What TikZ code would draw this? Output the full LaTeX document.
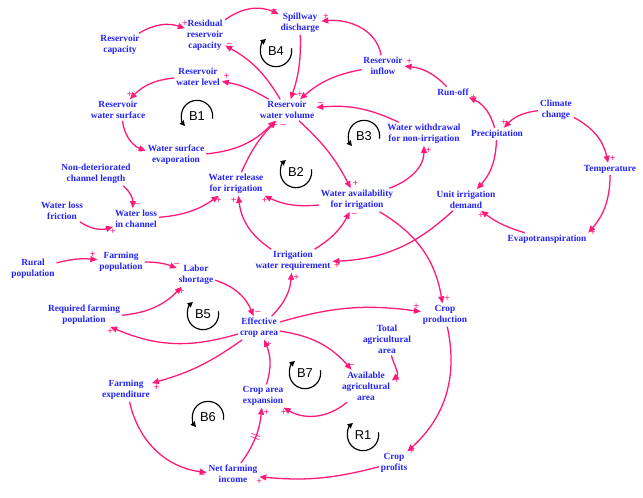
\documentclass[tikz,border=0pt]{standalone}
\usepackage{fontspec}
\setmainfont{Liberation Serif}
\newfontfamily\loopfont{Liberation Sans}
\usetikzlibrary{arrows.meta}
\definecolor{varblue}{RGB}{35,35,250}
\definecolor{linkpink}{RGB}{255,25,120}

\begin{document}
\begin{tikzpicture}[
    x=0.03cm, y=-0.03cm,
    var/.style={text=varblue, font=\bfseries\fontsize{8}{9.4}\selectfont, align=center, inner sep=1.5pt},
    link/.style={draw=linkpink, line width=1.1pt, -{Triangle[length=6pt,width=5pt]}},
    sgn/.style={text=linkpink, font=\bfseries\fontsize{8.5}{8.5}\selectfont, inner sep=1pt},
    loopname/.style={font=\loopfont\fontsize{11}{11}\selectfont},
    looparc/.style={draw=black, line width=1pt, -{Triangle[length=4.5pt,width=4.5pt]}}
]
\useasboundingbox (0,0) rectangle (643,497);

% Reservoir
\node[var] (rcap)    at (120,45)  {Reservoir\\capacity};
\node[var] (resid)   at (205,35)  {Residual\\reservoir\\capacity};
\node[var] (spill)   at (300,23)  {Spillway\\discharge};
\node[var] (inflow)  at (383,66)  {Reservoir\\inflow};
\node[var] (level)   at (198,77)  {Reservoir\\water level};
\node[var] (surf)    at (118,110) {Reservoir\\water surface};
\node[var] (vol)     at (287,110) {Reservoir\\water volume};
\node[var] (evap)    at (176,155) {Water surface\\evaporation};
\node[var] (withdr)  at (424,134) {Water withdrawal\\for non-irrigation};

% Climate
\node[var] (runoff)  at (453,92)  {Run-off};
\node[var] (climate) at (556,110) {Climate\\change};
\node[var] (precip)  at (497,134) {Precipitation};
\node[var] (temp)    at (610,169) {Temperature};
\node[var] (evapo)   at (547,239) {Evapotranspiration};
\node[var] (unit)    at (466,200) {Unit irrigation\\demand};

% Irrigation
\node[var] (avail)   at (357,200) {Water availability\\for irrigation};
\node[var] (irr)     at (293,261) {Irrigation\\water requirement};
\node[var] (chan)    at (96,174)  {Non-deteriorated\\channel length};
\node[var] (fric)    at (62,211)  {Water loss\\friction};
\node[var] (loss)    at (136,219) {Water loss\\in channel};
\node[var] (release) at (236,184) {Water release\\for irrigation};

% Farming
\node[var] (rural)   at (33,269)  {Rural\\population};
\node[var] (farmpop) at (121,262) {Farming\\population};
\node[var] (labor)   at (196,275) {Labor\\shortage};
\node[var] (reqpop)  at (84,315)  {Required farming\\population};
\node[var] (crop)    at (259,328) {Effective\\crop area};
\node[var] (prod)    at (445,315) {Crop\\production};
\node[var] (total)   at (387,339) {Total\\agricultural\\area};
\node[var] (agri)    at (366,386) {Available\\agricultural\\area};
\node[var] (expend)  at (126,390) {Farming\\expenditure};
\node[var] (expan)   at (263,396) {Crop area\\expansion};
\node[var] (income)  at (233,474) {Net farming\\income};
\node[var] (profit)  at (394,463) {Crop\\profits};

% Loop names
\node[loopname] (b4) at (276,51)  {B4};
\node[loopname] (b1) at (197,116) {B1};
\node[loopname] (b3) at (364,136) {B3};
\node[loopname] (b2) at (296,172) {B2};
\node[loopname] (b5) at (203,314) {B5};
\node[loopname] (b7) at (305,373) {B7};
\node[loopname] (b6) at (208,417) {B6};
\node[loopname] (r1) at (363,435) {R1};

\draw[looparc] (b4) ++(10:0.47cm) arc[start angle=10, end angle=-230, radius=0.47cm];
\draw[looparc] (b1) ++(-10:0.47cm) arc[start angle=-10, end angle=220, radius=0.47cm];
\draw[looparc] (b3) ++(-10:0.47cm) arc[start angle=-10, end angle=220, radius=0.47cm];
\draw[looparc] (b2) ++(10:0.47cm) arc[start angle=10, end angle=-230, radius=0.47cm];
\draw[looparc] (b5) ++(10:0.47cm) arc[start angle=10, end angle=-230, radius=0.47cm];
\draw[looparc] (b7) ++(10:0.47cm) arc[start angle=10, end angle=-230, radius=0.47cm];
\draw[looparc] (b6) ++(-10:0.47cm) arc[start angle=-10, end angle=220, radius=0.47cm];
\draw[looparc] (r1) ++(10:0.47cm) arc[start angle=10, end angle=-230, radius=0.47cm];

% Reservoir links
\draw[link] (rcap) to[bend left=25] node[sgn, pos=1, above] {+} (resid);
\draw[link] (resid) to[bend left=30] node[sgn, pos=1, above left] {--} (spill);
\draw[link] (vol) to[bend right=15] node[sgn, pos=1, right] {--} (resid);
\draw[link] (spill) to[bend left=10] node[sgn, pos=1, above right] {--} (vol);
\draw[link] (inflow) to[out=100, in=5] node[sgn, pos=1, above right] {+} (spill);
\draw[link] (inflow) to[bend right=15] node[sgn, pos=1, above] {+} (vol);
\draw[link] (vol) to[bend right=10] node[sgn, pos=1, above right] {+} (level);
\draw[link] (level) to[bend right=20] node[sgn, pos=1, above] {+} (surf);
\draw[link] (surf) to[bend right=30] node[sgn, pos=1, left] {+} (evap);
\draw[link] (evap) to[bend right=20] node[sgn, pos=1, below=2pt] {--} (vol);
\draw[link] (release) to[bend left=10] node[sgn, pos=1, below right=2pt] {--} (vol);
\draw[link] (vol) to[bend left=10] node[sgn, pos=1, above right] {+} (avail);
\draw[link] (avail) to[out=20, in=-90] node[sgn, pos=1, below right] {+} (withdr);
\draw[link] (withdr) to[bend right=15] node[sgn, pos=1, above right] {--} (vol);

% Climate links
\draw[link] (runoff) to[bend right=20] node[sgn, pos=1, above right] {+} (inflow);
\draw[link] (precip) to[bend right=25] node[sgn, pos=1, right] {+} (runoff);
\draw[link] (climate) to[bend right=20] node[sgn, pos=1, above] {+} (precip);
\draw[link] (climate) to[bend left=25] node[sgn, pos=1, above right] {+} (temp);
\draw[link] (temp) to[bend left=20] node[sgn, pos=1, right] {+} (evapo.north east);
\draw[link] (evapo) to[bend left=10] node[sgn, pos=1, below] {+} (unit);
\draw[link] (precip) to[bend left=20] node[sgn, pos=1, above right] {--} (unit);
\draw[link] (unit) to[bend left=20] node[sgn, pos=1, below right] {+} (irr);

% Irrigation links
\draw[link] (avail) to[bend left=15] node[sgn, pos=1, below] {+} (release);
\draw[link] (loss) to[bend right=15] node[sgn, pos=1, below] {+} (release);
\draw[link] (chan) to[bend left=25] node[sgn, pos=1, above right] {--} (loss);
\draw[link] (fric) to[bend right=25] node[sgn, pos=1, below] {+} (loss);
\draw[link] (irr) to[bend left=25] node[sgn, pos=1, below left] {+} (release);
\draw[link] (irr) to[bend right=15] node[sgn, pos=1, below right] {--} (avail);
\draw[link] (avail) to[bend left=25] node[sgn, pos=1, above right] {+} (prod);

% Farming links
\draw[link] (rural) to[bend left=10] node[sgn, pos=1, above left] {+} (farmpop);
\draw[link] (farmpop) to[bend left=10] node[sgn, pos=1, above] {--} (labor);
\draw[link] (reqpop) to[bend right=20] node[sgn, pos=1, below] {+} (labor);
\draw[link] (labor) to[bend left=25] node[sgn, pos=1, above right] {--} (crop);
\draw[link] (crop) to[bend right=20] node[sgn, pos=1, below right] {+} (irr);
\draw[link] (crop) to[bend left=12] node[sgn, pos=1, above left] {+} (prod);
\draw[link] (crop) to[bend left=20] node[sgn, pos=1, below] {+} (reqpop);
\draw[link] (crop) to[bend left=10] node[sgn, pos=1, below right] {+} (expend);
\draw[link] (crop) to[bend left=20] node[sgn, pos=1, above] {--} (agri);
\draw[link] (total) to[out=-75, in=40] node[sgn, pos=1, right] {+} (agri.12);
\draw[link] (agri) to[bend left=35] node[sgn, pos=1, below] {+} (expan);
\draw[link] (expan) to[bend right=20] node[sgn, pos=1, below right] {+} (crop);
\draw[link] (expend) to[bend right=35] node[sgn, pos=1, below left] {--} (income);
\draw[link] (income) to[bend right=15] node[sloped, pos=0.5, text=linkpink, inner sep=0pt, font=\bfseries\fontsize{9}{9}\selectfont] {||}
    node[sgn, pos=1, below right] {+} (expan);
\draw[link] (prod) to[bend left=30] node[sgn, pos=1, right] {+} (profit);
\draw[link] (profit) to[bend left=10] node[sgn, pos=1, below] {+} (income);

\end{tikzpicture}
\end{document}
